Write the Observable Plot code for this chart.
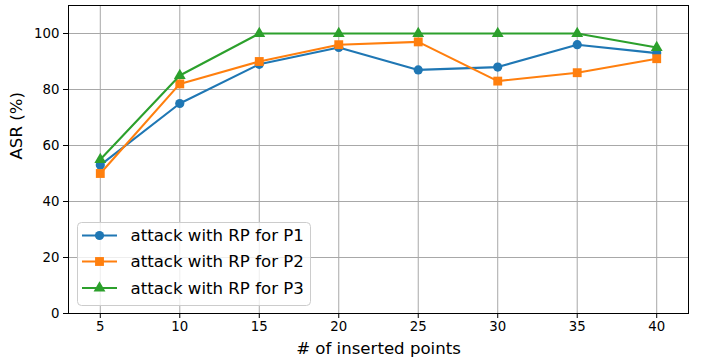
<!DOCTYPE html>
<html>
<head>
<meta charset="utf-8">
<script src="https://cdn.jsdelivr.net/npm/d3@7"></script>
<script src="https://cdn.jsdelivr.net/npm/@observablehq/plot@0.6"></script>
<style>
  html, body { margin: 0; padding: 0; background: #fff; }
  #chart { position: relative; width: 705px; height: 357px; }
</style>
</head>
<body>
<div id="chart"></div>
<script>
const xValues = [5, 10, 15, 20, 25, 30, 35, 40];
const seriesNames = ["attack with RP for P1", "attack with RP for P2", "attack with RP for P3"];
const p1 = [53, 75, 89, 95, 87, 88, 96, 93];
const p2 = [50, 82, 90, 96, 97, 83, 86, 91];
const p3 = [55, 85, 100, 100, 100, 100, 100, 95];
const colors = ["#1f77b4", "#ff7f0e", "#2ca02c"];
const symbols = ["circle", "square", "triangle"];
const symbolR = [4.6, 5.0, 4.4];
const xTicks = [5, 10, 15, 20, 25, 30, 35, 40];
const yTicks = [0, 20, 40, 60, 80, 100];
const xLabel = "# of inserted points";
const yLabel = "ASR (%)";

const series = [p1, p2, p3].map((vals, i) =>
  xValues.map((x, j) => ({ x, y: vals[j], name: seriesNames[i] }))
);

const marks = [
  Plot.gridX(xTicks, { stroke: "#a8a8a8", strokeOpacity: 1, strokeWidth: 1 }),
  Plot.gridY(yTicks, { stroke: "#a8a8a8", strokeOpacity: 1, strokeWidth: 1 }),
  Plot.axisX(xTicks, { tickSize: 5, tickPadding: 3, fontSize: 13, label: null, stroke: "black" }),
  Plot.axisY(yTicks, { tickSize: 5, tickPadding: 4, fontSize: 13, label: null, stroke: "black" }),
  Plot.text([xLabel], { frameAnchor: "bottom", dy: 35, fontSize: 16.6, fill: "black", lineAnchor: "middle" }),
  Plot.text([yLabel], { frameAnchor: "left", dx: -52, rotate: -90, fontSize: 16.6, fill: "black" })
];
series.forEach((data, i) => {
  marks.push(Plot.line(data, { x: "x", y: "y", stroke: colors[i], strokeWidth: 2.1 }));
  marks.push(Plot.dot(data, { x: "x", y: "y", fill: colors[i], stroke: "none", symbol: () => symbols[i], r: symbolR[i] }));
});
marks.push(Plot.frame({ stroke: "black", strokeWidth: 1 }));

const chart = Plot.plot({
  width: 705,
  height: 357,
  marginLeft: 68,
  marginRight: 17,
  marginTop: 5,
  marginBottom: 44,
  style: { fontFamily: "DejaVu Sans, sans-serif", fontSize: "13px", background: "white", color: "black" },
  x: { type: "linear", domain: [3, 42] },
  y: { type: "linear", domain: [0, 110] },
  symbol: { type: "identity" },
  marks
});
document.getElementById("chart").appendChild(chart);

const svg = d3.select(chart);
svg.selectAll("text")
  .filter(function () { return /^\s*\d+\s*$/.test(this.textContent); })
  .style("font-size", "13.3px")
  .style("font-family", "'DejaVu Sans', sans-serif");

// Legend (inside the plot, lower left)
const lg = svg.append("g").attr("class", "legend").attr("text-anchor", "start");
lg.append("rect")
  .attr("x", 77.5).attr("y", 222.5).attr("width", 233).attr("height", 83)
  .attr("rx", 4).attr("fill", "white").attr("fill-opacity", 0.8)
  .attr("stroke", "#cccccc").attr("stroke-width", 1);
const rowY = [235.5, 261.5, 288];
seriesNames.forEach((name, i) => {
  const y = rowY[i];
  lg.append("line").attr("x1", 82).attr("x2", 117).attr("y1", y).attr("y2", y)
    .attr("stroke", colors[i]).attr("stroke-width", 2.1);
  const sym = [d3.symbolCircle, d3.symbolSquare, d3.symbolTriangle][i];
  lg.append("path")
    .attr("d", d3.symbol(sym, Math.PI * symbolR[i] * symbolR[i])())
    .attr("transform", `translate(99.5,${y})`)
    .attr("fill", colors[i]);
  lg.append("text").attr("x", 130.5).attr("y", y).attr("dy", "0.35em")
    .attr("text-anchor", "start")
    .attr("font-size", 16.6).attr("fill", "black").text(name);
});
</script>
</body>
</html>
